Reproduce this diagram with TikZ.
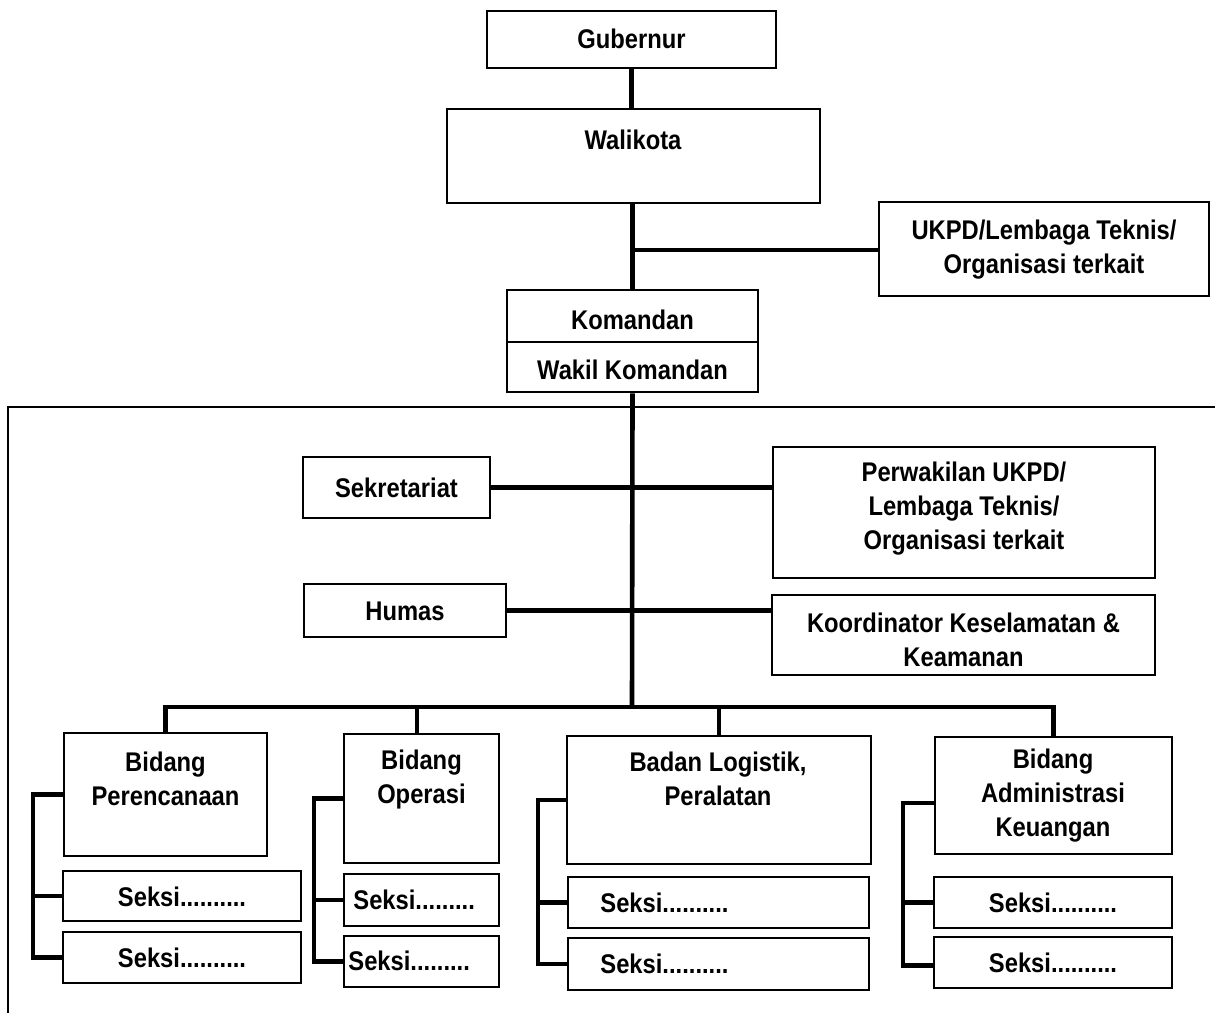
\documentclass[tikz,border=0pt]{standalone}
\usepackage{fontspec}
\newfontfamily\orgfont{Liberation Sans}[FakeStretch=0.88]
\usetikzlibrary{fit}
\tikzset{
  box/.style={draw, line width=1.3pt, inner sep=0pt},
  conn/.style={line width=2.3pt},
  frameline/.style={line width=1.1pt},
  txt/.style={align=center, inner sep=0pt, font=\orgfont\bfseries\fontsize{13.5}{17}\selectfont},
}
\begin{document}
\begin{tikzpicture}[x=0.5pt,y=-0.5pt]
\useasboundingbox (0,0) rectangle (1215,1013);
% top boxes
\node[box, fit={(487,11) (776,68)}] (gub) {};
\node[txt] (gubt) at (631.5,39) {Gubernur};
\node[box, fit={(447,109) (820,203)}] (wali) {};
\node[txt] (walit) at (633,140) {Walikota};
\node[box, fit={(879,202) (1209,296)}] (ukpd) {};
\node[txt] (ukpdt) at (1044,250) {UKPD/Lembaga Teknis/\\Organisasi terkait};
\node[box, fit={(507,290) (758,342)}] (kom1) {};
\node[txt] (kom1t) at (632.5,320) {Komandan};
\node[box, fit={(507,342) (758,392)}] (kom2) {};
\node[txt] (kom2t) at (632.5,370) {Wakil Komandan};
% staff boxes
\node[box, fit={(303,457) (490,518)}] (sek) {};
\node[txt] (sekt) at (396.5,488) {Sekretariat};
\node[box, fit={(304,584) (506,637)}] (hum) {};
\node[txt] (humt) at (405,611) {Humas};
\node[box, fit={(773,447) (1155,578)}] (perw) {};
\node[txt] (perwt) at (964,509) {Perwakilan UKPD/\\Lembaga Teknis/\\Organisasi terkait};
\node[box, fit={(772,595) (1155,675)}] (koor) {};
\node[txt] (koort) at (963.5,640) {Koordinator Keselamatan \&\\Keamanan};
% divisions
\node[box, fit={(64,733) (267,856)}] (bp) {};
\node[txt] (bpt) at (165.5,778.5) {Bidang\\Perencanaan};
\node[box, fit={(63,871) (301,921)}] (bp1) {};
\node[txt] (bp1t) at (182,897) {Seksi..........};
\node[box, fit={(63,932) (301,983)}] (bp2) {};
\node[txt] (bp2t) at (182,958) {Seksi..........};
\node[box, fit={(344,734) (499,863)}] (bo) {};
\node[txt] (bot) at (421.5,780) {Bidang\\Operasi};
\node[box, fit={(344,874) (499,926)}] (bo1) {};
\node[txt, anchor=west] (bo1t) at (353,900) {Seksi.........};
\node[box, fit={(344,936) (499,987)}] (bo2) {};
\node[txt, anchor=west] (bo2t) at (348,961) {Seksi.........};
\node[box, fit={(567,736) (871,864)}] (bl) {};
\node[txt] (blt) at (718,779) {Badan Logistik,\\Peralatan};
\node[box, fit={(568,877) (869,928)}] (bl1) {};
\node[txt, anchor=west] (bl1t) at (600,903) {Seksi..........};
\node[box, fit={(568,938) (869,990)}] (bl2) {};
\node[txt, anchor=west] (bl2t) at (600,964) {Seksi..........};
\node[box, fit={(935,737) (1172,854)}] (ba) {};
\node[txt] (bat) at (1053,796) {Bidang\\Administrasi\\Keuangan};
\node[box, fit={(934,877) (1172,928)}] (ba1) {};
\node[txt] (ba1t) at (1053,903) {Seksi..........};
\node[box, fit={(934,937) (1172,988)}] (ba2) {};
\node[txt] (ba2t) at (1053,963) {Seksi..........};
% frame
\coordinate (frR) at (1215,407);
\coordinate (frC) at (8,407);
\coordinate (frB) at (8,1013);
\draw[frameline] (frR) -- (frC) -- (frB);
% connectors
\coordinate (j1) at (632,250);
\coordinate (bus) at (632,707);
\draw[conn] (gub.south) -- (gub.south |- wali.north);
\draw[conn] (kom1.north |- wali.south) -- (kom1.north);
\draw[conn] (j1) -- (j1 -| ukpd.west);
\draw[conn] (kom2.south) -- (bus);
\draw[conn] (sek.east) -- (sek.east -| perw.west);
\draw[conn] (hum.east) -- (hum.east -| koor.west);
\draw[conn] (bp.north) -- (bp.north |- bus) -| (ba.north);
\draw[conn] ([xshift=-2.25pt]bo.north) -- ([xshift=-2.25pt]bo.north |- bus);
\draw[conn] (bl.north) -- (bl.north |- bus);
% brackets
\coordinate (kp) at (33,795);
\draw[conn] (bp.west) -- (bp.west -| kp) |- (bp2.west);
\draw[conn] (bp1.west -| kp) -- (bp1.west);
\coordinate (ko) at (314,799);
\draw[conn] (bo.west) -- (bo.west -| ko) |- (bo2.west);
\draw[conn] (bo1.west -| ko) -- (bo1.west);
\coordinate (kl) at (538,801);
\draw[conn] (bl.west) -- (bl.west -| kl) |- (bl2.west);
\draw[conn] (bl1.west -| kl) -- (bl1.west);
\coordinate (ka) at (903,803);
\draw[conn] (ba.west |- ka) -- (ka) |- ([yshift=-1.5pt]ba2.west);
\draw[conn] (ba1.west -| ka) -- (ba1.west);
\end{tikzpicture}
\end{document}
